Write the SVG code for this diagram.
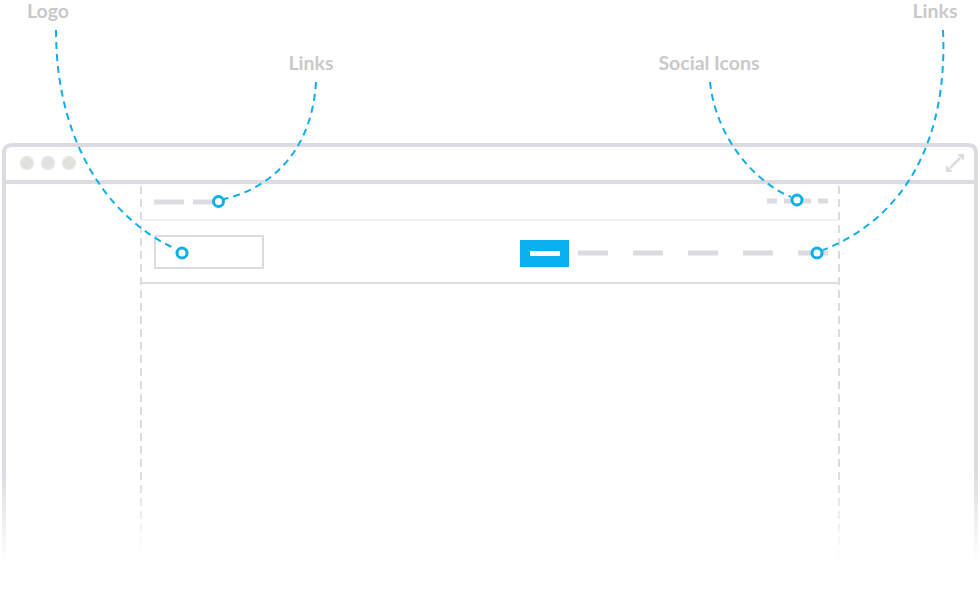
<svg xmlns="http://www.w3.org/2000/svg" width="980" height="591" viewBox="0 0 980 591">
<defs>
<style>
.frame{fill:none;stroke:#dcdce0;stroke-width:4}
.guide{fill:none;stroke:#dcdce0;stroke-width:2;stroke-dasharray:8 5}
.bar{fill:none;stroke:#dcdce0;stroke-width:5}
.curve{fill:none;stroke:#10aee8;stroke-width:2;stroke-dasharray:7 5}
.pin{fill:#fff;stroke:#10aee8;stroke-width:3}
.lbl{font-family:Lato,"Liberation Sans",sans-serif;font-weight:bold;font-size:19.5px;fill:#c9c9cb;text-anchor:middle}
.dot{fill:#dfe1dc;stroke:#e9eae7;stroke-width:1.5}
</style>
<linearGradient id="fade" x1="0" y1="0" x2="0" y2="1">
<stop offset="0" stop-color="#fff" stop-opacity="0"/>
<stop offset="0.75" stop-color="#fff" stop-opacity="1"/>
</linearGradient>
</defs>
<rect width="980" height="591" fill="#fff"/>
<g id="browser">
<path class="frame" d="M4,600 V153 Q4,145 12,145 H968 Q976,145 976,153 V600"/>
<line class="frame" x1="4" y1="182" x2="976" y2="182"/>
<circle class="dot" cx="27" cy="163" r="6.5"/>
<circle class="dot" cx="48" cy="163" r="6.5"/>
<circle class="dot" cx="69" cy="163" r="6.5"/>
<g id="expand" fill="#dcdce0" stroke="#dcdce0">
<line x1="950" y1="168" x2="960" y2="158" stroke-width="2.5"/>
<polygon points="946,172 946,165 953,172" stroke="none"/>
<polygon points="964,154 964,161 957,154" stroke="none"/>
</g>
</g>
<g id="page">
<line class="guide" x1="141" y1="186" x2="141" y2="560"/>
<line class="guide" x1="839" y1="186" x2="839" y2="560"/>
<line x1="141" y1="220" x2="839" y2="220" stroke="#ebebed" stroke-width="1.5"/>
<line x1="141" y1="283" x2="839" y2="283" stroke="#dcdce0" stroke-width="2"/>
</g>
<g id="nav-links-left">
<line class="bar" x1="154" y1="202" x2="184" y2="202"/>
<line class="bar" x1="193" y1="202" x2="218" y2="202"/>
</g>
<g id="social-icons">
<line class="bar" x1="767" y1="201" x2="828" y2="201" stroke-dasharray="10 7"/>
</g>
<g id="logo-box">
<rect x="155" y="236" width="108" height="32" fill="#fff" stroke="#dcdce0" stroke-width="2"/>
</g>
<g id="menu-button">
<rect x="520" y="240" width="49" height="27" fill="#0ab0ef"/>
<rect x="530" y="251" width="30" height="5" fill="#fff"/>
</g>
<g id="nav-links-right">
<line class="bar" x1="578" y1="253" x2="828" y2="253" stroke-dasharray="30 25"/>
</g>
<g id="fadeout">
<rect x="0" y="470" width="980" height="121" fill="url(#fade)"/>
</g>
<g id="connectors">
<path class="curve" d="M56,30 C56,150 115,222 176,249"/>
<path class="curve" d="M316,82 C312,150 272,188 224,199"/>
<path class="curve" d="M710,82 C716,140 758,184 791,197"/>
<path class="curve" d="M943,30 C948,140 905,218 823,250"/>
</g>
<g id="pins">
<circle class="pin" cx="218.5" cy="201.5" r="5"/>
<circle class="pin" cx="182" cy="253" r="5"/>
<circle class="pin" cx="797" cy="200" r="5"/>
<circle class="pin" cx="817" cy="253" r="5"/>
</g>
<g id="labels">
<text class="lbl" x="48" y="18">Logo</text>
<text class="lbl" x="311" y="70">Links</text>
<text class="lbl" x="709" y="70">Social Icons</text>
<text class="lbl" x="935" y="18">Links</text>
</g>
</svg>
